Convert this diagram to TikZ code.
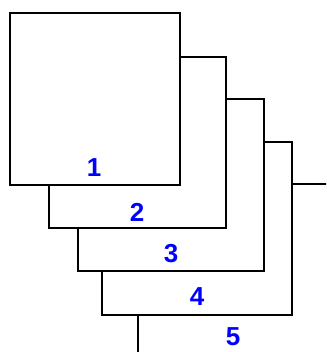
\documentclass[tikz,border=0pt]{standalone}
\usepackage{fontspec}
\setmainfont{Liberation Sans}
\usetikzlibrary{positioning}

\begin{document}
\begin{tikzpicture}[x=1pt,y=-1pt,
	sheet/.style={draw,fill=white,line width=1.2pt},
	num/.style={text=blue,font=\bfseries\fontsize{26}{26}\selectfont}]
	
		\useasboundingbox (0,0) rectangle (326,352);
		\clip (0,0) rectangle (326,352);
		% sheets, back to front
		\foreach \l/\t/\r/\b in {138/184/380/400,102/142/292/315,78/99/264/271,49/57/226/228,10/13/180/185}
		\draw[sheet] (\l,\t) rectangle (\r,\b);
		
		\node[num] (n1) at (94,168) {1};
		\node[num] (n2) at (137,212) {2};
		\node[num] (n3) at (171,254) {3};
		\node[num] (n4) at (197,297) {4};
		\node[num] (n5) at (233,337) {5};
		\end{tikzpicture}
\end{document}
